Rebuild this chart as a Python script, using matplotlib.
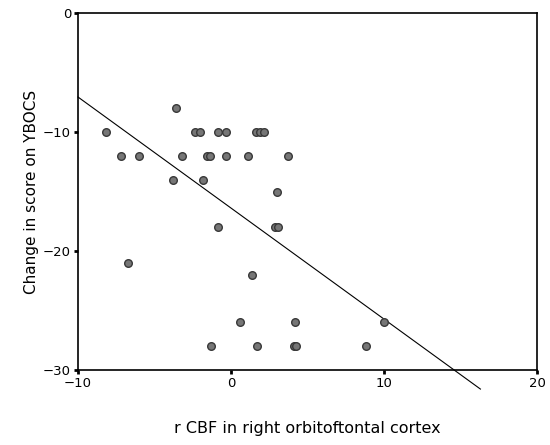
import matplotlib
matplotlib.use("Agg")
import matplotlib.pyplot as plt
import numpy as np

plt.rcParams['font.family'] = ['DejaVu Sans']

# data
x_vals = [-8.2, -2.35, -2.05, -0.85, -0.35, 1.65, 1.9, 2.15,
          -3.6,
          -7.2, -6.0, -3.2, -1.55, -1.4, -0.35, 1.1, 3.7,
          -3.8, -1.8,
          3.0,
          -0.83, 2.9, 3.08,
          -6.7,
          1.35,
          0.57, 4.2, 10.0,
          -1.3, 1.7, 4.1, 4.25, 8.85]
y_vals = [-10, -10, -10, -10, -10, -10, -10, -10,
          -8,
          -12, -12, -12, -12, -12, -12, -12, -12,
          -14, -14,
          -15,
          -18, -18, -18,
          -21,
          -22,
          -26, -26, -26,
          -28, -28, -28, -28, -28]
line_x = [-10, 16.3]
line_y = [-7.06, -31.6]

x_ticks = [-10, 0, 10, 20]
y_ticks = [0, -10, -20, -30]

fig = plt.figure(figsize=(5.5, 4.45), dpi=100)
ax = fig.add_axes([0.1418, 0.1685, 0.8346, 0.8023])

ax.plot(line_x, line_y, color='black', lw=0.8, clip_on=False, zorder=2)
ax.scatter(x_vals, y_vals, s=30, facecolor='#767676', edgecolor='#383838',
           linewidths=1.0, zorder=3)

ax.set_xlim(-10, 20)
ax.set_ylim(-30, 0)
ax.set_xticks(x_ticks)
ax.set_yticks(y_ticks)
ax.set_xticklabels([str(v).replace('-', '\u2212') for v in x_ticks], fontsize=9.5)
ax.set_yticklabels([str(v).replace('-', '\u2212') for v in y_ticks], fontsize=9.5)
ax.tick_params(direction='out', length=3, width=2, pad=2)
for sp in ax.spines.values():
    sp.set_linewidth(1.2)

ax.set_xlabel('r CBF in right orbitoftontal cortex', fontsize=11.5, labelpad=22)
ax.set_ylabel('Change in score on YBOCS', fontsize=11, labelpad=3)

fig.savefig('out.png', dpi=100)
